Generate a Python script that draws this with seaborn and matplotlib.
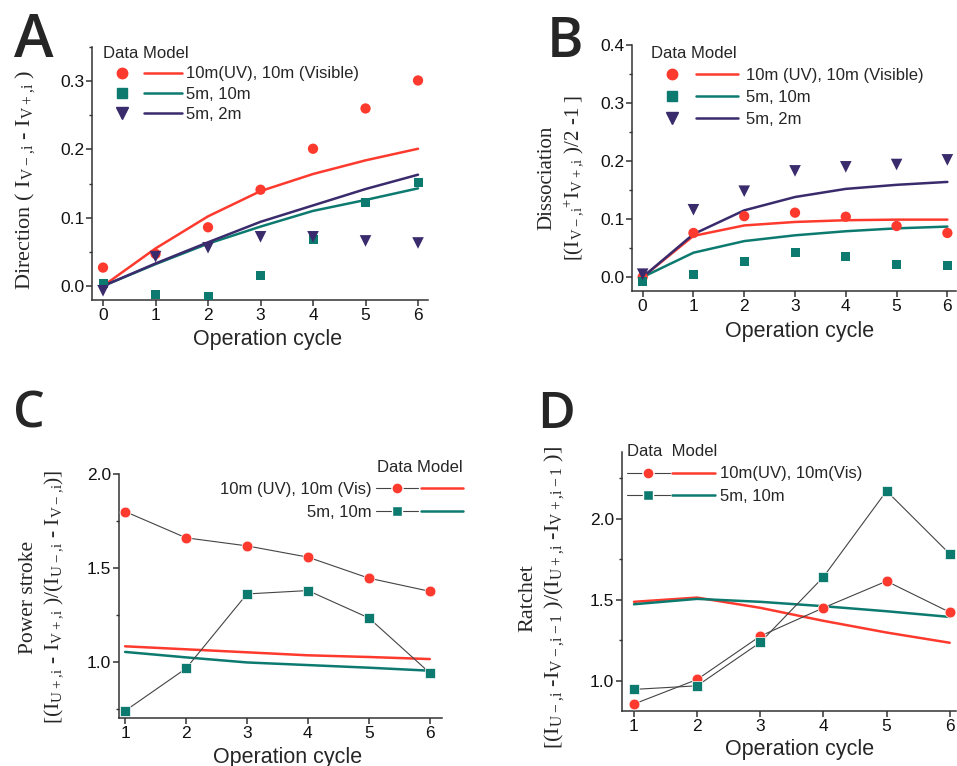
import numpy as np
import pandas as pd
import seaborn as sns
import matplotlib
import matplotlib.pyplot as plt
from matplotlib.lines import Line2D
from matplotlib.legend_handler import HandlerTuple
from matplotlib.ticker import MultipleLocator

matplotlib.use('Agg')

RED = '#fd3a2d'
TEAL = '#0d7a70'
PURPLE = '#3a2b6c'
GRAY = '#444444'
SPINE = '#333333'

cycles = [0, 1, 2, 3, 4, 5, 6]
cycles_cd = [1, 2, 3, 4, 5, 6]

# Panel A - direction
a_data_uv = [0.027, 0.047, 0.086, 0.141, 0.201, 0.260, 0.301]
a_data_5m10m = [0.003, -0.012, -0.016, 0.016, 0.068, 0.123, 0.151]
a_data_5m2m = [-0.007, 0.043, 0.056, 0.072, 0.072, 0.066, 0.063]
a_model_uv = [0.0, 0.055, 0.102, 0.139, 0.164, 0.184, 0.201]
a_model_5m10m = [0.0, 0.032, 0.062, 0.087, 0.110, 0.126, 0.143]
a_model_5m2m = [0.0, 0.033, 0.064, 0.094, 0.118, 0.142, 0.163]

# Panel B - dissociation
b_data_uv = [0.0, 0.076, 0.105, 0.111, 0.104, 0.088, 0.076]
b_data_5m10m = [-0.007, 0.005, 0.027, 0.042, 0.035, 0.021, 0.020]
b_data_5m2m = [0.005, 0.116, 0.148, 0.183, 0.190, 0.194, 0.202]
b_model_uv = [0.0, 0.071, 0.089, 0.095, 0.098, 0.099, 0.099]
b_model_5m10m = [0.0, 0.042, 0.062, 0.072, 0.079, 0.084, 0.087]
b_model_5m2m = [0.0, 0.074, 0.115, 0.138, 0.152, 0.159, 0.164]

# Panel C - power stroke
c_data_uv = [1.80, 1.66, 1.617, 1.557, 1.445, 1.375]
c_data_5m10m = [0.738, 0.964, 1.361, 1.379, 1.233, 0.940]
c_model_uv = [1.082, 1.066, 1.050, 1.034, 1.025, 1.014]
c_model_5m10m = [1.052, 1.023, 0.996, 0.982, 0.968, 0.952]

# Panel D - ratchet
d_data_uv = [0.859, 1.010, 1.277, 1.451, 1.615, 1.424]
d_data_5m10m = [0.949, 0.971, 1.238, 1.641, 2.170, 1.783]
d_model_uv = [1.488, 1.514, 1.451, 1.371, 1.299, 1.236]
d_model_5m10m = [1.473, 1.506, 1.488, 1.461, 1.430, 1.395]

sns.set_style('ticks')
plt.rcParams['font.family'] = ['Liberation Sans', 'DejaVu Sans']
plt.rcParams['mathtext.default'] = 'regular'
plt.rcParams['axes.edgecolor'] = SPINE
plt.rcParams['axes.linewidth'] = 1.1
plt.rcParams['xtick.color'] = SPINE
plt.rcParams['ytick.color'] = SPINE
plt.rcParams['xtick.labelcolor'] = '#111111'
plt.rcParams['ytick.labelcolor'] = '#111111'

W, H = 957, 766
fig = plt.figure(figsize=(W / 100, H / 100), dpi=100)


def px_axes(left, top, right, bottom):
    return fig.add_axes([left / W, 1 - bottom / H, (right - left) / W, (bottom - top) / H])


def style_axes(ax, ymajor, yminor):
    sns.despine(ax=ax)
    ax.yaxis.set_major_locator(MultipleLocator(ymajor))
    ax.yaxis.set_minor_locator(MultipleLocator(yminor))
    ax.tick_params(axis='both', which='major', length=4, width=1.1, labelsize=12.5, pad=1.5)
    ax.tick_params(axis='y', which='minor', length=2.5, width=1.0)
    ax.tick_params(axis='x', which='minor', length=0)
    ax.set_facecolor('white')


def place_labels(ax, xlabel, xpos, ylabel, ypos, ysize):
    ax.set_xlabel(xlabel, fontsize=15.5)
    ax.xaxis.set_label_coords(xpos[0] / W, 1 - xpos[1] / H, transform=fig.transFigure)
    ax.xaxis.label.set_va('center')
    ax.set_ylabel(ylabel, fontsize=ysize, family=['Liberation Serif', 'DejaVu Serif'],
                  multialignment='center', linespacing=1.25)
    ax.yaxis.set_label_coords(ypos[0] / W, 1 - ypos[1] / H, transform=fig.transFigure)
    ax.yaxis.label.set_rotation_mode('default')
    ax.yaxis.label.set_va('center')
    ax.yaxis.label.set_ha('center')


def legend_at(ax, handles, labels, x, y, loc, hlen, tpad, lspace,
              markerfirst=True, align='left', title='Data Model'):
    tx, ty = ax.transAxes.inverted().transform(fig.transFigure.transform((x / W, 1 - y / H)))
    leg = ax.legend(handles, labels, loc=loc, bbox_to_anchor=(tx, ty), frameon=False,
                    title=title, title_fontsize=12, fontsize=12, alignment=align,
                    markerfirst=markerfirst, borderpad=0, borderaxespad=0,
                    handlelength=hlen, handletextpad=tpad, labelspacing=lspace,
                    handler_map={tuple: HandlerTuple(ndivide=None, pad=0.15)})
    return leg


# ---------- Panel A ----------
axA = px_axes(92, 47, 428, 300)
for vals, col, mk, sz in [(a_data_uv, RED, 'o', 55), (a_data_5m10m, TEAL, 's', 42),
                          (a_data_5m2m, PURPLE, 'v', 70)]:
    sns.scatterplot(x=cycles, y=vals, color=col, marker=mk, s=sz, edgecolor='none', ax=axA, zorder=3)
for vals, col in [(a_model_uv, RED), (a_model_5m10m, TEAL), (a_model_5m2m, PURPLE)]:
    sns.lineplot(x=cycles, y=vals, color=col, lw=1.8, ax=axA, zorder=2)
axA.set_xlim(-0.21, 6.19)
axA.set_ylim(-0.0205, 0.35)
axA.set_xticks(cycles)
style_axes(axA, 0.1, 0.05)
place_labels(axA, 'Operation cycle', (268, 340),
             'Direction ( I$_{V-{,}i}$ - I$_{V+{,}i}$ )', (25, 180), 16)
hA = [(Line2D([], [], ls='none', marker=m, color=c, markersize=ms), Line2D([], [], color=c, lw=1.8))
      for m, c, ms in [('o', RED, 7.5), ('s', TEAL, 6.5), ('v', PURPLE, 8.5)]]
legend_at(axA, hA, ['10m(UV), 10m (Visible)', '5m, 10m', '5m, 2m'], 103, 46, 'upper left',
          hlen=4.75, tpad=0.25, lspace=0.32)

# ---------- Panel B ----------
axB = px_axes(632, 45, 956, 291)
for vals, col, mk, sz in [(b_data_uv, RED, 'o', 55), (b_data_5m10m, TEAL, 's', 42),
                          (b_data_5m2m, PURPLE, 'v', 70)]:
    sns.scatterplot(x=cycles, y=vals, color=col, marker=mk, s=sz, edgecolor='none', ax=axB, zorder=3)
for vals, col in [(b_model_uv, RED), (b_model_5m10m, TEAL), (b_model_5m2m, PURPLE)]:
    sns.lineplot(x=cycles, y=vals, color=col, lw=1.8, ax=axB, zorder=2)
axB.set_xlim(-0.21, 6.17)
axB.set_ylim(-0.024, 0.4)
axB.set_xticks(cycles)
style_axes(axB, 0.1, 0.05)
place_labels(axB, 'Operation cycle', (800, 332),
             'Dissociation\n[(I$_{V-{,}i}$$^{+}$I$_{V+{,}i}$ )/2 -1 ]', (561, 178), 15)
hB = [(Line2D([], [], ls='none', marker=m, color=c, markersize=ms), Line2D([], [], color=c, lw=1.8))
      for m, c, ms in [('o', RED, 7.5), ('s', TEAL, 6.5), ('v', PURPLE, 8.5)]]
legend_at(axB, hB, ['10m (UV), 10m (Visible)', '5m, 10m', '5m, 2m'], 651, 46, 'upper left',
          hlen=5.2, tpad=0.5, lspace=0.41)

# ---------- Panel C ----------
axC = px_axes(119, 474, 442, 718)
for vals, col in [(c_model_uv, RED), (c_model_5m10m, TEAL)]:
    sns.lineplot(x=cycles_cd, y=vals, color=col, lw=1.8, ax=axC, zorder=2)
for vals, col, mk, sz in [(c_data_uv, RED, 'o', 60), (c_data_5m10m, TEAL, 's', 45)]:
    sns.lineplot(x=cycles_cd, y=vals, color=GRAY, lw=0.8, ax=axC, zorder=3)
    sns.scatterplot(x=cycles_cd, y=vals, color=col, marker=mk, s=sz, edgecolor='white',
                    linewidth=0.5, ax=axC, zorder=4)
axC.set_xlim(0.9, 6.2)
axC.set_ylim(0.7, 2.0)
axC.set_xticks(cycles_cd)
style_axes(axC, 0.5, 0.25)
place_labels(axC, 'Operation cycle', (288, 757),
             'Power stroke\n[(I$_{U+{,}i}$ - I$_{V+{,}i}$ )/(I$_{U-{,}i}$ - I$_{V-{,}i}$)]', (42, 597), 15.5)
hC = [(Line2D([], [], color=GRAY, lw=0.8, marker=m, markerfacecolor=c, markeredgecolor='white',
              markersize=ms), Line2D([], [], color=c, lw=1.8))
      for m, c, ms in [('o', RED, 8), ('s', TEAL, 6.5)]]
legend_at(axC, hC, ['10m (UV), 10m (Vis)', '5m, 10m'], 463, 460, 'upper right',
          hlen=5.2, tpad=0.3, lspace=0.44, markerfirst=False, align='right')

# ---------- Panel D ----------
axD = px_axes(622, 452, 956, 711)
for vals, col in [(d_model_uv, RED), (d_model_5m10m, TEAL)]:
    sns.lineplot(x=cycles_cd, y=vals, color=col, lw=1.8, ax=axD, zorder=2)
for vals, col, mk, sz in [(d_data_uv, RED, 'o', 60), (d_data_5m10m, TEAL, 's', 45)]:
    sns.lineplot(x=cycles_cd, y=vals, color=GRAY, lw=0.8, ax=axD, zorder=3)
    sns.scatterplot(x=cycles_cd, y=vals, color=col, marker=mk, s=sz, edgecolor='white',
                    linewidth=0.5, ax=axD, zorder=4)
axD.set_xlim(0.81, 6.1)
axD.set_ylim(0.816, 2.41)
axD.set_xticks(cycles_cd)
style_axes(axD, 0.5, 0.25)
place_labels(axD, 'Operation cycle', (800, 750),
             'Ratchet\n[(I$_{U-{,}i}$ -I$_{V-{,}i-1}$ )/(I$_{U+{,}i}$ -I$_{V+{,}i-1}$ )]', (542, 598), 16)
hD = [(Line2D([], [], color=GRAY, lw=0.8, marker=m, markerfacecolor=c, markeredgecolor='white',
              markersize=ms), Line2D([], [], color=c, lw=1.8))
      for m, c, ms in [('o', RED, 8), ('s', TEAL, 6.5)]]
legend_at(axD, hD, ['10m(UV), 10m(Vis)', '5m, 10m'], 627, 444, 'upper left',
          hlen=5.3, tpad=0.25, lspace=0.44, title='Data  Model')

# panel letters
for letter, x, y, size in [('A', 14, 12, 43), ('B', 547, 15, 40), ('C', 13, 390, 36), ('D', 537, 390, 37)]:
    fig.text(x / W, 1 - y / H, letter, fontsize=size, family='Open Sans', weight='semibold',
             ha='left', va='top')

fig.savefig('out.png', dpi=100, facecolor='white')
